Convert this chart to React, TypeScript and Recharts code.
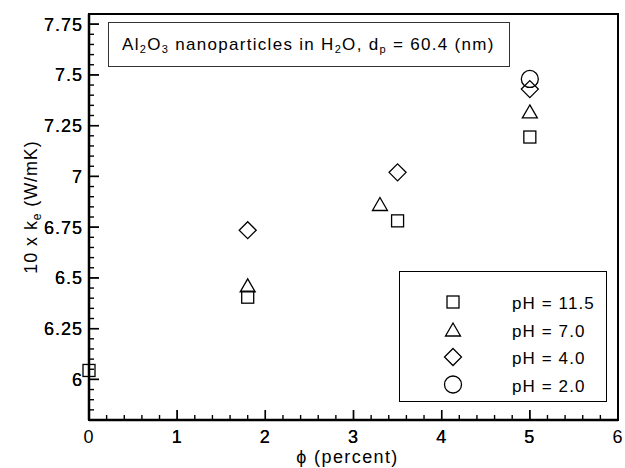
import React from 'react';
import { ScatterChart, Scatter, XAxis, YAxis, ReferenceArea, Legend } from 'recharts';

// thermal conductivity (10 x k_e, W/mK) vs volume fraction phi (percent)
const ph115 = [
  { phi: 0, k: 6.044 },
  { phi: 1.8, k: 6.405 },
  { phi: 3.5, k: 6.781 },
  { phi: 5.0, k: 7.194 },
];
const ph70 = [
  { phi: 1.8, k: 6.463 },
  { phi: 3.3, k: 6.864 },
  { phi: 5.0, k: 7.32 },
];
const ph40 = [
  { phi: 1.8, k: 6.735 },
  { phi: 3.5, k: 7.02 },
  { phi: 5.0, k: 7.43 },
];
const ph20 = [{ phi: 5.0, k: 7.48 }];

const legendOrder = ['pH = 11.5', 'pH = 7.0', 'pH = 4.0', 'pH = 2.0'];

const xMajor = [0, 1, 2, 3, 4, 5, 6];
const yMajor = [6, 6.25, 6.5, 6.75, 7, 7.25, 7.5, 7.75];

const FONT = '"Liberation Sans", Arial, Helvetica, sans-serif';

// minor ticks between the majors
const steps = (from: number, to: number, step: number) => {
  const out: number[] = [];
  for (let v = from + step; v < to - step / 2; v += step) out.push(Math.round(v * 1000) / 1000);
  return out;
};
const xTicks = steps(0, 6, 0.2);
const yTicks = steps(5.8, 7.8, 0.05);

const XTick = (props: any) => {
  const { x, y, payload } = props;
  const major = xMajor.includes(payload.value);
  return (
    <g>
      <line x1={x} x2={x} y1={y} y2={y - (major ? 10 : 5)} stroke="#000" strokeWidth={1.4} />
      {major && (
        <text x={x} y={y + 23} textAnchor="middle" fontSize={18} fontWeight={400} letterSpacing={1} fontFamily={FONT} fill="#000">
          {payload.value}
        </text>
      )}
    </g>
  );
};

const YTick = (props: any) => {
  const { x, y, payload } = props;
  const major = yMajor.includes(payload.value);
  return (
    <g>
      <line x1={x} x2={x + (major ? 10 : 5)} y1={y} y2={y} stroke="#000" strokeWidth={1.4} />
      {major && (
        <text x={x - 6} y={y + 6.5} textAnchor="end" fontSize={18} fontWeight={400} letterSpacing={1} fontFamily={FONT} fill="#000">
          {payload.value}
        </text>
      )}
    </g>
  );
};

const Square = ({ cx, cy }: any) => (
  <rect x={cx - 6} y={cy - 6} width={12} height={12} fill="none" stroke="#000" strokeWidth={1.3} />
);
const Triangle = ({ cx, cy }: any) => (
  <polygon
    points={`${cx},${cy - 6.5} ${cx + 7.5},${cy + 6.5} ${cx - 7.5},${cy + 6.5}`}
    fill="none"
    stroke="#000"
    strokeWidth={1.3}
  />
);
const Diamond = ({ cx, cy }: any) => (
  <polygon
    points={`${cx},${cy - 8.5} ${cx + 8.5},${cy} ${cx},${cy + 8.5} ${cx - 8.5},${cy}`}
    fill="none"
    stroke="#000"
    strokeWidth={1.3}
  />
);
const Circle = ({ cx, cy }: any) => (
  <circle cx={cx} cy={cy} r={8.5} fill="none" stroke="#000" strokeWidth={1.3} />
);

const markers: { [name: string]: (p: any) => React.ReactElement } = {
  'pH = 11.5': Square,
  'pH = 7.0': Triangle,
  'pH = 4.0': Diamond,
  'pH = 2.0': Circle,
};

const LegendBox = (props: any) => {
  const items = [...((props.payload || []) as any[])].sort(
    (a, b) => legendOrder.indexOf(a.value) - legendOrder.indexOf(b.value)
  );
  return (
    <svg width={208} height={131} style={{ display: 'block' }}>
      <rect x={0.5} y={0.5} width={207} height={130} fill="#fff" stroke="#000" strokeWidth={1} />
      {items.map((item, i) => {
        const Shape = markers[item.value];
        const cy = 31 + i * 27.5;
        return (
          <g key={item.value}>
            {Shape && <Shape cx={54} cy={cy} />}
            <text x={113} y={cy + 7} fontSize={17} fontWeight={400} letterSpacing={1.1} fontFamily={FONT} fill="#000">
              {item.value}
            </text>
          </g>
        );
      })}
    </svg>
  );
};

const YLabel = (props: any) => {
  const { x, y, height } = props.viewBox;
  const cx = x + 37;
  const cy = y + height / 2 - 10;
  return (
    <text
      x={cx}
      y={cy}
      transform={`rotate(-90, ${cx}, ${cy})`}
      textAnchor="middle"
      fontSize={18}
      fontWeight={400}
      letterSpacing={0.9}
      fontFamily={FONT}
      fill="#000"
    >
      10 x k
      <tspan fontSize={12} dy={4}>e</tspan>
      <tspan dy={-4}> (W/mK)</tspan>
    </text>
  );
};

const XLabel = (props: any) => {
  const { x, y, width, height } = props.viewBox;
  return (
    <text
      x={x + width / 2 - 6}
      y={y + height - 5}
      textAnchor="middle"
      fontSize={18}
      fontWeight={400}
      letterSpacing={1.4}
      fontFamily={FONT}
      fill="#000"
    >
      ϕ (percent)
    </text>
  );
};

const subStyle: React.CSSProperties = { fontSize: '0.65em', verticalAlign: '-0.3em', lineHeight: 0 };

export default function App() {
  return (
    <div style={{ position: 'absolute', left: 0, top: 0, width: 625, height: 468, background: '#fff' }}>
      <ScatterChart width={625} height={468} margin={{ top: 14, right: 7, left: 0, bottom: 0 }}>
        <XAxis
          type="number"
          dataKey="phi"
          domain={[0, 6]}
          ticks={[...xMajor, ...xTicks]}
          interval={0}
          height={48}
          tickSize={0}
          tickMargin={0}
          tick={<XTick />}
          axisLine={{ stroke: '#000', strokeWidth: 2.5 }}
          label={<XLabel />}
        />
        <YAxis
          type="number"
          dataKey="k"
          domain={[5.8, 7.8]}
          ticks={[...yMajor, ...yTicks]}
          interval={0}
          width={89}
          tickSize={0}
          tickMargin={0}
          tick={<YTick />}
          axisLine={{ stroke: '#000', strokeWidth: 2.5 }}
          label={<YLabel />}
        />
        <ReferenceArea x1={0} x2={6} y1={5.8} y2={7.8} fill="none" fillOpacity={0} stroke="#000" strokeWidth={2} />
        <Scatter name="pH = 11.5" data={ph115} shape={<Square />} isAnimationActive={false} />
        <Scatter name="pH = 7.0" data={ph70} shape={<Triangle />} isAnimationActive={false} />
        <Scatter name="pH = 4.0" data={ph40} shape={<Diamond />} isAnimationActive={false} />
        <Scatter name="pH = 2.0" data={ph20} shape={<Circle />} isAnimationActive={false} />
        <Legend
          layout="vertical"
          align="center"
          verticalAlign="middle"
          content={<LegendBox />}
          wrapperStyle={{ left: 399, top: 271, width: 208, height: 131 }}
        />
      </ScatterChart>
      <div
        style={{
          position: 'absolute',
          left: 108,
          top: 22,
          width: 402,
          height: 45,
          boxSizing: 'border-box',
          border: '1px solid #333',
          background: '#fff',
          fontFamily: FONT,
          fontSize: 17,
          letterSpacing: 1.3,
          lineHeight: '43px',
          paddingLeft: 13,
          whiteSpace: 'nowrap',
          color: '#000',
        }}
      >
        Al<sub style={subStyle}>2</sub>O<sub style={subStyle}>3</sub> nanoparticles in H<sub style={subStyle}>2</sub>O, d
        <sub style={subStyle}>p</sub> = 60.4 (nm)
      </div>
    </div>
  );
}
